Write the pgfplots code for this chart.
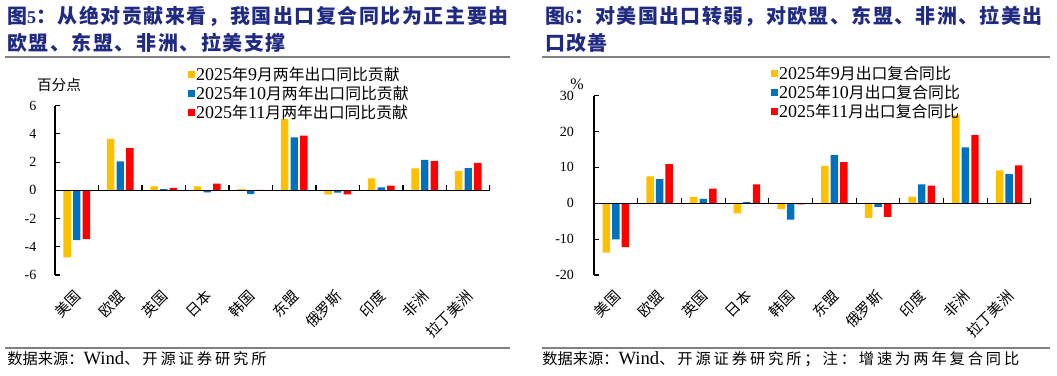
\documentclass[border=0pt]{standalone}
\usepackage{fontspec}
\usepackage{pgfplots}
\usepackage{pgfplotstable}
\pgfplotsset{compat=1.18}
\setmainfont{Liberation Serif}
\newfontfamily\cjk{Noto Sans CJK SC}[Scale=0.88]
\newfontfamily\cjkttlA{Noto Sans CJK SC}[Scale=0.88,LetterSpace=8]
\newfontfamily\cjkttlB{Noto Sans CJK SC}[Scale=0.88,LetterSpace=7]
\newfontfamily\cjksrc{Noto Sans CJK SC}[Scale=0.88,LetterSpace=19]
\newcommand\srczh[1]{{\fontsize{13}{15}\selectfont\cjk #1}}
\newcommand\srczhw[1]{{\fontsize{13}{15}\selectfont\cjksrc #1}}

\definecolor{sepYel}{HTML}{FFC000}
\definecolor{octBlu}{HTML}{0070C0}
\definecolor{novRed}{HTML}{FF0000}
\definecolor{titleBlue}{HTML}{1F2A80}
\definecolor{ruleGray}{HTML}{808080}

% contribution to two-year export growth, percentage points
\pgfplotstableread{
idx sep oct nov
0 -4.75 -3.52 -3.45
1 3.64 2.06 3.00
2 0.28 0.09 0.17
3 0.28 -0.14 0.47
4 0.08 -0.26 0.03
5 5.04 3.76 3.88
6 -0.28 -0.17 -0.28
7 0.85 0.21 0.33
8 1.56 2.15 2.08
9 1.37 1.58 1.94
}\contrib

% two-year compound export growth, %
\pgfplotstableread{
idx sep oct nov
0 -13.75 -10.1 -12.2
1 7.5 6.7 10.9
2 1.77 1.2 4.1
3 -2.8 0.3 5.3
4 -1.6 -4.55 -0.3
5 10.4 13.4 11.5
6 -4.1 -1.0 -3.8
7 1.86 5.3 4.9
8 24.6 15.6 19.0
9 9.2 8.1 10.6
}\growth

\pgfplotsset{
  regionbars/.style={
    scale only axis,
    ybar=1.55pt,
    bar width=5.6pt,
    xmin=-0.5, xmax=9.5,
    axis lines*=left,
    axis line style={-},
    x axis line style={draw=none},
    y axis line style={line width=0.8pt},
    xtick={0,...,9},
    xticklabels={美国,欧盟,英国,日本,韩国,东盟,俄罗斯,印度,非洲,拉丁美洲},
    xtick style={draw=none},
    xticklabel style={font=\fontsize{12.5}{14}\selectfont\cjk, inner sep=0pt,
      xshift=-2.4pt, yshift=-10pt, rotate=45, anchor=north east},
    ytick style={line width=0.8pt, black},
    tick align=inside,
    major tick length=3.75pt,
    yticklabel style={font=\fontsize{10.5}{12}\selectfont,
      /pgf/number format/assume math mode=true},
    legend cell align=left,
    legend style={draw=none, fill=none, inner sep=0pt, row sep=1.3pt,
      font=\fontsize{13.5}{15}\selectfont, anchor=north west,
      nodes={inner sep=0.6pt}},
  },
  sq/.style={legend image code/.code={\fill[##1] (0pt,-2.6pt) rectangle (5.3pt,2.6pt);}},
}

\begin{document}
\begin{tikzpicture}
\begin{scope}[x=0.75pt,y=-0.75pt]
\useasboundingbox (0,0) rectangle (1057,375);
% headings
\node[anchor=west, inner sep=0, text=titleBlue, font=\fontsize{17}{20}\selectfont\bfseries]
  at (7,16) {{\cjkttlA 图}{\fontsize{13.5}{15}\selectfont 5}{\cjkttlA ：从绝对贡献来看，我国出口复合同比为正主要由}};
\node[anchor=west, inner sep=0, text=titleBlue, font=\fontsize{17}{20}\selectfont\bfseries]
  at (7,43) {\cjkttlA 欧盟、东盟、非洲、拉美支撑};
\node[anchor=west, inner sep=0, text=titleBlue, font=\fontsize{17}{20}\selectfont\bfseries]
  at (545,16) {{\cjkttlB 图}{\fontsize{13.5}{15}\selectfont 6}{\cjkttlB ：对美国出口转弱，对欧盟、东盟、非洲、拉美出}};
\node[anchor=west, inner sep=0, text=titleBlue, font=\fontsize{17}{20}\selectfont\bfseries]
  at (545,43) {\cjkttlB 口改善};
% rules
\draw[ruleGray, line width=1.5pt] (5,57) -- (510,57);
\draw[ruleGray, line width=1.5pt] (542,57) -- (1050,57);
\draw[ruleGray, line width=1.5pt] (5,348) -- (510,348);
\draw[ruleGray, line width=1.5pt] (542,348) -- (1050,348);
% sources
\node[anchor=west, inner sep=0, font=\fontsize{14}{16}\selectfont]
  at (7,359) {\srczh{数据来源：}Wind\srczhw{、开源证券研究所}};
\node[anchor=west, inner sep=0, font=\fontsize{14}{16}\selectfont]
  at (542,359) {\srczh{数据来源：}Wind\srczhw{、开源证券研究所；注：增速为两年复合同比}};
% units
\node[inner sep=0, font=\fontsize{12.5}{14}\selectfont\cjk] at (59,85) {百分点};
\node[inner sep=0, font=\fontsize{12}{14}\selectfont] at (577,84) {\%};
\end{scope}

\begin{axis}[regionbars, at={(41.25pt,-206.25pt)}, anchor=south west,
  width=326.25pt, height=127pt, ymin=-6, ymax=6, ytick={-6,-4,...,6},
  yticklabel style={xshift=-10.5pt},
  legend style={at={(0.306,1.233)}}]
\addplot[fill=sepYel, draw=none, sq] table[x=idx,y=sep]{\contrib};
\addlegendentry{2025{\cjk 年}9{\cjk 月两年出口同比贡献}}
\addplot[fill=octBlu, draw=none, sq] table[x=idx,y=oct]{\contrib};
\addlegendentry{2025{\cjk 年}10{\cjk 月两年出口同比贡献}}
\addplot[fill=novRed, draw=none, sq] table[x=idx,y=nov]{\contrib};
\addlegendentry{2025{\cjk 年}11{\cjk 月两年出口同比贡献}}
\draw[line width=0.9pt] (axis cs:-0.5,0) -- (axis cs:9.5,0);
\pgfplotsinvokeforeach{0.5,1.5,...,9.5}{\draw[line width=0.8pt] (axis cs:#1,0) -- ++(0pt,3.75pt);}
\end{axis}

\begin{axis}[regionbars, at={(445.5pt,-206.25pt)}, anchor=south west,
  width=327.75pt, height=134.5pt, ymin=-20, ymax=30, ytick={-20,-10,...,30},
  yticklabel style={xshift=-11.5pt},
  legend style={at={(0.405,1.170)}}]
\addplot[fill=sepYel, draw=none, sq] table[x=idx,y=sep]{\growth};
\addlegendentry{2025{\cjk 年}9{\cjk 月出口复合同比}}
\addplot[fill=octBlu, draw=none, sq] table[x=idx,y=oct]{\growth};
\addlegendentry{2025{\cjk 年}10{\cjk 月出口复合同比}}
\addplot[fill=novRed, draw=none, sq] table[x=idx,y=nov]{\growth};
\addlegendentry{2025{\cjk 年}11{\cjk 月出口复合同比}}
\draw[line width=0.9pt] (axis cs:-0.5,0) -- (axis cs:9.5,0);
\pgfplotsinvokeforeach{0.5,1.5,...,9.5}{\draw[line width=0.8pt] (axis cs:#1,0) -- ++(0pt,3.75pt);}
\end{axis}
\end{tikzpicture}
\end{document}
